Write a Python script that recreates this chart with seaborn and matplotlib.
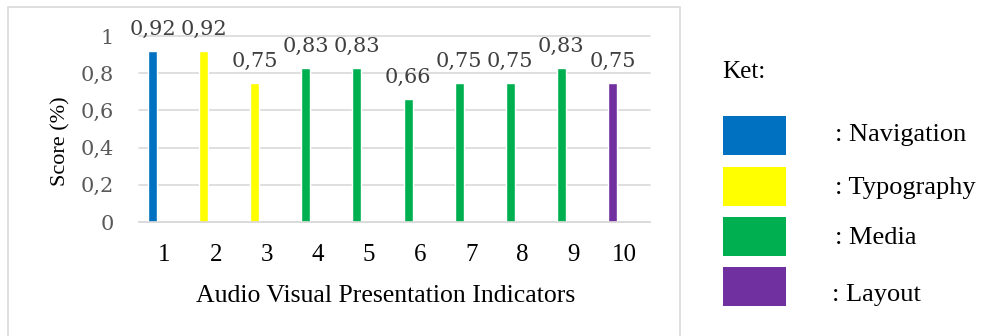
import matplotlib
matplotlib.use("Agg")
import matplotlib.pyplot as plt
from matplotlib.patches import Rectangle
import seaborn as sns
import pandas as pd

# Scores per audio-visual presentation indicator
indicators = ["1", "2", "3", "4", "5", "6", "7", "8", "9", "10"]
scores = [0.92, 0.92, 0.75, 0.83, 0.83, 0.66, 0.75, 0.75, 0.83, 0.75]
aspects = ["Navigation", "Typography", "Typography", "Media", "Media",
           "Media", "Media", "Media", "Media", "Layout"]

aspect_names = ["Navigation", "Typography", "Media", "Layout"]
aspect_colors = ["#0070C0", "#FFFF00", "#00B050", "#7030A0"]
y_ticks = [0, 0.2, 0.4, 0.6, 0.8, 1.0]

df = pd.DataFrame({"indicator": indicators, "score": scores, "aspect": aspects})
palette = dict(zip(aspect_names, aspect_colors))

W, H = 981, 336
fig = plt.figure(figsize=(W / 100, H / 100), dpi=100)
sns.set_style("white")

serif = "Liberation Serif"
num_font = "DejaVu Serif"
bar_shift = 0.235  # bars sit left of the category centre (clustered layout)

ax = fig.add_axes([139 / W, (H - 222) / H, (650 - 139) / W, (222 - 36) / H])
sns.barplot(data=df, x="indicator", y="score", hue="aspect", palette=palette,
            dodge=False, width=0.176, saturation=1, legend=False, ax=ax,
            order=indicators)
for p in ax.patches:
    p.set_x(p.get_x() - bar_shift)

ax.set_ylim(0, 1)
ax.set_xlim(-0.5, len(indicators) - 0.5)
ax.set_yticks(y_ticks)
ax.set_yticklabels([f"{t:g}".replace(".", ",") for t in y_ticks],
                   fontfamily=num_font, fontsize=15, color="#595959")
ax.set_xticks(range(len(indicators)))
ax.set_xticklabels(indicators, fontfamily=serif, fontsize=18, color="#000000")
ax.tick_params(axis="both", length=0)
ax.tick_params(axis="y", pad=18)
ax.tick_params(axis="x", pad=16)
ax.grid(axis="y", color="#d9d9d9", linewidth=1.2)
ax.set_axisbelow(True)
for gl in ax.get_ygridlines():
    gl.set_clip_on(False)
for side in ["top", "right", "left"]:
    ax.spines[side].set_visible(False)
ax.spines["bottom"].set_color("#d9d9d9")
ax.spines["bottom"].set_linewidth(1.2)
ax.set_xlabel("")
ax.set_ylabel("")

# value labels above each bar
for i, v in enumerate(scores):
    ax.annotate(f"{v:.2f}".replace(".", ","), (i - bar_shift, v), xytext=(0, 11.5),
                textcoords="offset points", ha="center", va="baseline",
                fontfamily=num_font, fontsize=15, color="#404040",
                annotation_clip=False)

fig.text(386 / W, (H - 302) / H, "Audio Visual Presentation Indicators",
         ha="center", va="baseline", fontfamily=serif, fontsize=18.5, color="#000000")
fig.text(61 / W, (H - 141) / H, "Score (%)", ha="center", va="center",
         rotation=90, fontfamily=serif, fontsize=16, color="#000000")

# chart frame
fig.patches.append(Rectangle((8 / W, -0.02), (680 - 8) / W, (H - 7) / H + 0.02,
                             transform=fig.transFigure, fill=False,
                             edgecolor="#d9d9d9", linewidth=1.2))

# key
fig.text(722 / W, (H - 78) / H, "Ket:", ha="left", va="baseline",
         fontfamily=serif, fontsize=18, color="#000000")
box_tops = [116, 167, 217, 267]
text_x = [835, 835, 835, 832]
text_y = [135, 188, 238, 295]
for name, color, top, tx, ty in zip(aspect_names, aspect_colors, box_tops, text_x, text_y):
    fig.patches.append(Rectangle((723 / W, (H - top - 39) / H), 63 / W, 39 / H,
                                 transform=fig.transFigure, facecolor=color,
                                 edgecolor="none"))
    fig.text(tx / W, (H - ty) / H, f": {name}", ha="left", va="center",
             fontfamily=serif, fontsize=19, color="#000000")

fig.savefig("out.png", dpi=100, facecolor="white")
